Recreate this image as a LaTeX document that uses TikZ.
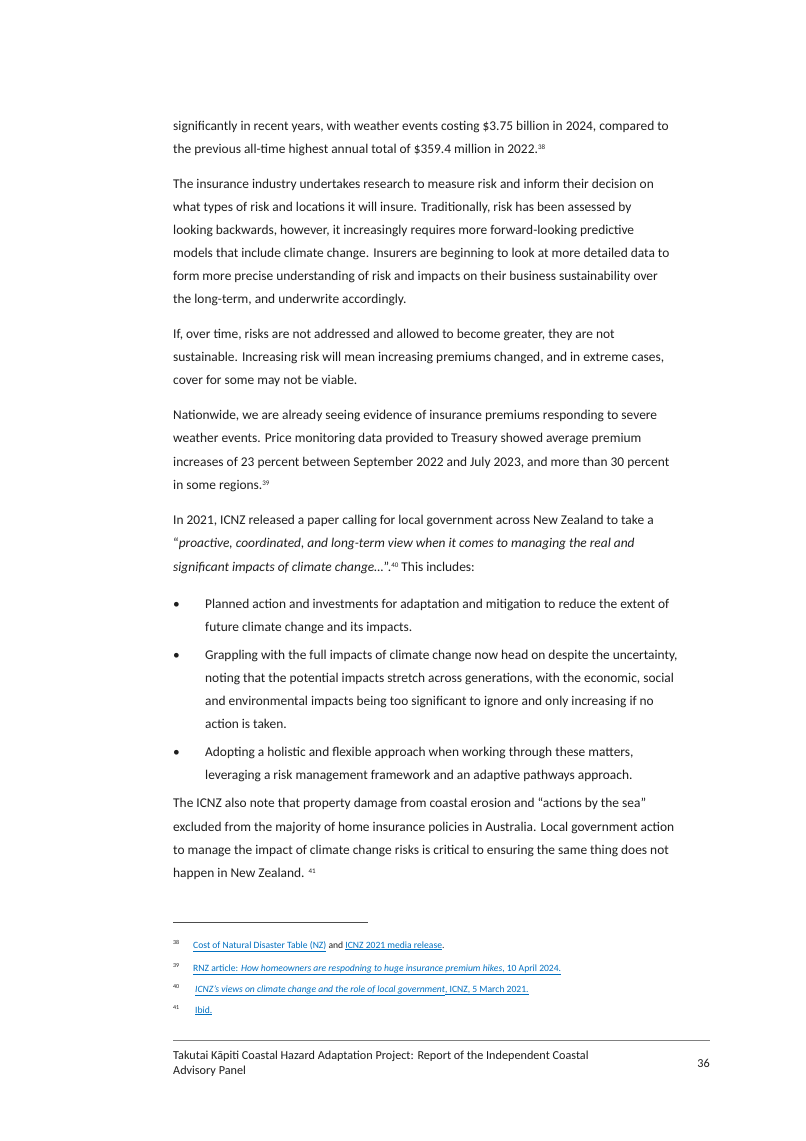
\documentclass[tikz,border=0pt]{standalone}
\usepackage{fontspec}
\setmainfont{Carlito}
\definecolor{lnk}{RGB}{0,112,192}
\definecolor{txt}{RGB}{30,30,30}
\tikzset{ln/.style={anchor=base west,inner sep=0pt,font=\fontsize{13.4}{15}\selectfont,text=txt},
fn/.style={anchor=base west,inner sep=0pt,font=\fontsize{9.6}{11}\selectfont,text=txt},
supn/.style={anchor=base west,inner sep=0pt,font=\fontsize{6}{7}\selectfont,text=txt},
ft/.style={anchor=base west,inner sep=0pt,font=\fontsize{12.2}{14}\selectfont,text=txt}}
\newcommand{\fnm}[1]{\raisebox{0.5ex}{\fontsize{7}{8}\selectfont #1}}
\newcommand{\lk}[1]{\textcolor{lnk}{\underline{#1}}}
\begin{document}
\begin{tikzpicture}[x=1pt,y=-1pt]
\useasboundingbox[fill=white] (0,0) rectangle (806,1141);
\def\L{173}
\def\B{205}
\node[ln] (l1) at (\L,130) {significantly in recent years, with weather events costing \$3.75 billion in 2024, compared to};
\node[ln] (l2) at (\L,153) {the previous all-time highest annual total of \$359.4 million in 2022.\fnm{38}};
\node[ln] (l3) at (\L,188) {The insurance industry undertakes research to measure risk and inform their decision on};
\node[ln] (l4) at (\L,211) {what types of risk and locations it will insure. Traditionally, risk has been assessed by};
\node[ln] (l5) at (\L,234) {looking backwards, however, it increasingly requires more forward-looking predictive};
\node[ln] (l6) at (\L,257) {models that include climate change. Insurers are beginning to look at more detailed data to};
\node[ln] (l7) at (\L,280) {form more precise understanding of risk and impacts on their business sustainability over};
\node[ln] (l8) at (\L,303) {the long-term, and underwrite accordingly.};
\node[ln] (l9) at (\L,338) {If, over time, risks are not addressed and allowed to become greater, they are not};
\node[ln] (l10) at (\L,361) {sustainable. Increasing risk will mean increasing premiums changed, and in extreme cases,};
\node[ln] (l11) at (\L,384) {cover for some may not be viable.};
\node[ln] (l12) at (\L,419) {Nationwide, we are already seeing evidence of insurance premiums responding to severe};
\node[ln] (l13) at (\L,442) {weather events. Price monitoring data provided to Treasury showed average premium};
\node[ln] (l14) at (\L,466) {increases of 23 percent between September 2022 and July 2023, and more than 30 percent};
\node[ln] (l15) at (\L,489) {in some regions.\fnm{39}};
\node[ln] (l16) at (\L,524) {In 2021, ICNZ released a paper calling for local government across New Zealand to take a};
\node[ln] (l17) at (\L,547) {``\textit{proactive, coordinated, and long-term view when it comes to managing the real and}};
\node[ln] (l18) at (\L,571) {\textit{significant impacts of climate change\ldots}''.\fnm{40} This includes:};
\node[ln] (b1) at (\L,608) {\textbullet};
\node[ln] (l19) at (\B,608) {Planned action and investments for adaptation and mitigation to reduce the extent of};
\node[ln] (l20) at (\B,631) {future climate change and its impacts.};
\node[ln] (b2) at (\L,659) {\textbullet};
\node[ln] (l21) at (\B,659) {Grappling with the full impacts of climate change now head on despite the uncertainty,};
\node[ln] (l22) at (\B,682) {noting that the potential impacts stretch across generations, with the economic, social};
\node[ln] (l23) at (\B,705) {and environmental impacts being too significant to ignore and only increasing if no};
\node[ln] (l24) at (\B,728) {action is taken.};
\node[ln] (b3) at (\L,756) {\textbullet};
\node[ln] (l25) at (\B,756) {Adopting a holistic and flexible approach when working through these matters,};
\node[ln] (l26) at (\B,779) {leveraging a risk management framework and an adaptive pathways approach.};
\node[ln] (l27) at (\L,807) {The ICNZ also note that property damage from coastal erosion and ``actions by the sea''};
\node[ln] (l28) at (\L,831) {excluded from the majority of home insurance policies in Australia. Local government action};
\node[ln] (l29) at (\L,854) {to manage the impact of climate change risks is critical to ensuring the same thing does not};
\node[ln] (l30) at (\L,877) {happen in New Zealand. \fnm{41}};
\coordinate (r1a) at (173,922); \coordinate (r1b) at (368,922);
\draw[line width=0.6pt,black!70] (r1a) -- (r1b);
\node[supn] (s38) at (\L,944) {38};
\node[fn] (f38) at (193,948) {\lk{Cost of Natural Disaster Table (NZ)} and \lk{ICNZ 2021 media release}.};
\node[supn] (s39) at (\L,967) {39};
\node[fn] (f39) at (193,971) {\textcolor{lnk}{\underline{RNZ article: \textit{How homeowners are respodning to huge insurance premium hikes}}\underline{, 10 April 2024.}}};
\node[supn] (s40) at (\L,988) {40};
\node[fn] (f40) at (195,992) {\textcolor{lnk}{\underline{\textit{ICNZ's views on climate change and the role of local government}}\underline{, ICNZ, 5 March 2021.}}};
\node[supn] (s41) at (\L,1009) {41};
\node[fn] (f41) at (195,1013) {\lk{Ibid.}};
\coordinate (r2a) at (173,1040); \coordinate (r2b) at (710,1040);
\draw[line width=0.8pt,black!50] (r2a) -- (r2b);
\node[ft] (t1) at (\L,1059) {Takutai Kāpiti Coastal Hazard Adaptation Project: Report of the Independent Coastal};
\node[ft] (t2) at (\L,1074) {Advisory Panel};
\node[ft,anchor=base east] (pg) at (710,1067) {36};
\end{tikzpicture}
\end{document}
